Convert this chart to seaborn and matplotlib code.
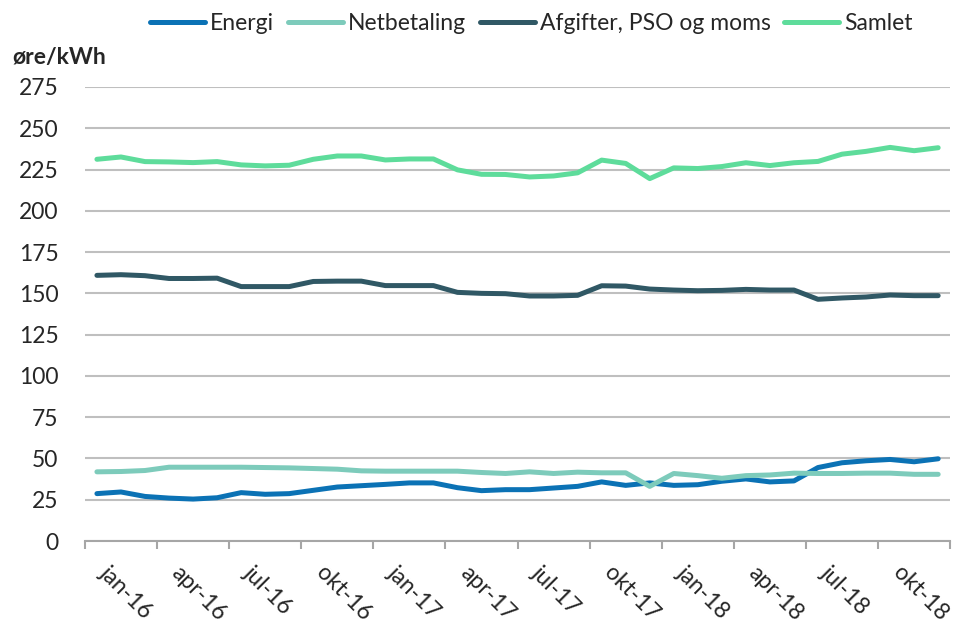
import numpy as np
import pandas as pd
import matplotlib
matplotlib.use("Agg")
import matplotlib.pyplot as plt
import matplotlib.transforms as mtransforms
import seaborn as sns

# monthly values, jan-16 .. dec-18 (øre/kWh)
months = ["jan", "feb", "mar", "apr", "maj", "jun", "jul", "aug", "sep", "okt", "nov", "dec"]
month_labels = [f"{m}-{y}" for y in ["16", "17", "18"] for m in months]

energi = [28.7, 29.7, 27.0, 26.0, 25.4, 26.2, 29.3, 28.3, 28.7, 30.7, 32.7, 33.5,
          34.3, 35.2, 35.2, 32.3, 30.5, 31.1, 31.1, 32.1, 33.1, 35.8, 33.7, 35.2,
          33.7, 34.1, 36.2, 37.6, 35.8, 36.4, 44.5, 47.4, 48.6, 49.4, 48.0, 49.8]
netbetaling = [41.9, 42.1, 42.7, 44.7, 44.7, 44.7, 44.7, 44.5, 44.3, 43.9, 43.5, 42.5,
               42.3, 42.3, 42.3, 42.3, 41.5, 40.9, 41.9, 40.9, 41.7, 41.3, 41.3, 33.1,
               40.9, 39.6, 38.0, 39.6, 40.0, 41.1, 40.9, 40.9, 41.1, 41.1, 40.4, 40.4]
afgifter = [160.9, 161.3, 160.7, 159.0, 159.0, 159.2, 154.1, 154.1, 154.1, 157.2, 157.4, 157.4,
            154.7, 154.7, 154.7, 150.6, 150.0, 149.8, 148.4, 148.4, 148.8, 154.6, 154.4, 152.6,
            152.0, 151.6, 151.8, 152.4, 152.0, 152.0, 146.4, 147.2, 147.8, 149.0, 148.6, 148.6]
samlet = [231.2, 232.6, 229.8, 229.6, 229.2, 229.8, 227.8, 227.2, 227.6, 231.2, 233.2, 233.2,
          230.8, 231.4, 231.4, 224.8, 222.1, 222.0, 220.5, 221.1, 223.0, 230.7, 228.7, 219.5,
          226.0, 225.6, 226.8, 229.1, 227.4, 229.1, 229.9, 234.3, 236.0, 238.4, 236.4, 238.2]

series_names = ["Energi", "Netbetaling", "Afgifter, PSO og moms", "Samlet"]
colors = ["#0B72B5", "#7DCBBB", "#305865", "#5EDC9B"]

df = pd.DataFrame({"idx": np.arange(len(month_labels)),
                   "Energi": energi,
                   "Netbetaling": netbetaling,
                   "Afgifter, PSO og moms": afgifter,
                   "Samlet": samlet})
long = df.melt(id_vars="idx", var_name="serie", value_name="value")

sns.set_style("white")
plt.rcParams["font.family"] = ["Lato", "DejaVu Sans"]
fs = 16.5

fig = plt.figure(figsize=(9.54, 6.23), dpi=100)
ax = fig.add_axes([0.089, 0.1316, 0.907, 0.7288])

sns.lineplot(data=long, x="idx", y="value", hue="serie", hue_order=series_names,
             palette=colors, linewidth=3.6, ax=ax, legend=False)
for ln in ax.get_lines():
    ln.set_solid_capstyle("round")
    ln.set_solid_joinstyle("round")

ax.set_xlim(-0.5, len(month_labels) - 0.5)
ax.set_ylim(0, 275)
ax.set_yticks(np.arange(0, 276, 25))
ax.yaxis.grid(True, color="#BFBFBF", linewidth=1.5)
ax.set_axisbelow(True)
for s in ["left", "right", "top"]:
    ax.spines[s].set_visible(False)
ax.spines["bottom"].set_color("#A6A6A6")
ax.spines["bottom"].set_linewidth(1.5)

# tick marks at category boundaries, labels every third month
ax.set_xticks(np.arange(-0.5, len(month_labels), 3))
ax.set_xticklabels([])
ax.tick_params(axis="x", which="major", length=6, width=1.5, color="#A6A6A6", bottom=True)
ax.set_xticks(np.arange(0, len(month_labels), 3), minor=True)
ax.set_xticklabels(month_labels[::3], minor=True, rotation=-45, ha="left", va="top",
                   rotation_mode="default", fontsize=fs)
ax.tick_params(axis="x", which="minor", length=0, pad=15)
shift = mtransforms.ScaledTranslation(-1 / 72, 0, fig.dpi_scale_trans)
for lab in ax.get_xticklabels(minor=True):
    lab.set_transform(lab.get_transform() + shift)
ax.tick_params(axis="y", length=0, pad=19, labelsize=fs)
ax.set_xlabel("")
ax.set_ylabel("")

fig.text(0.013, 0.907, "øre/kWh", fontsize=fs, fontweight="bold", va="center", ha="left")

handles = [plt.Line2D([0], [0], color=c, linewidth=3.6, solid_capstyle="round") for c in colors]
fig.legend(handles, series_names, loc="center", bbox_to_anchor=(0.557, 0.963), ncol=4,
           frameon=False, fontsize=fs, handlelength=2.4, handletextpad=0.22,
           columnspacing=0.6)

fig.savefig("out.png", dpi=100)
